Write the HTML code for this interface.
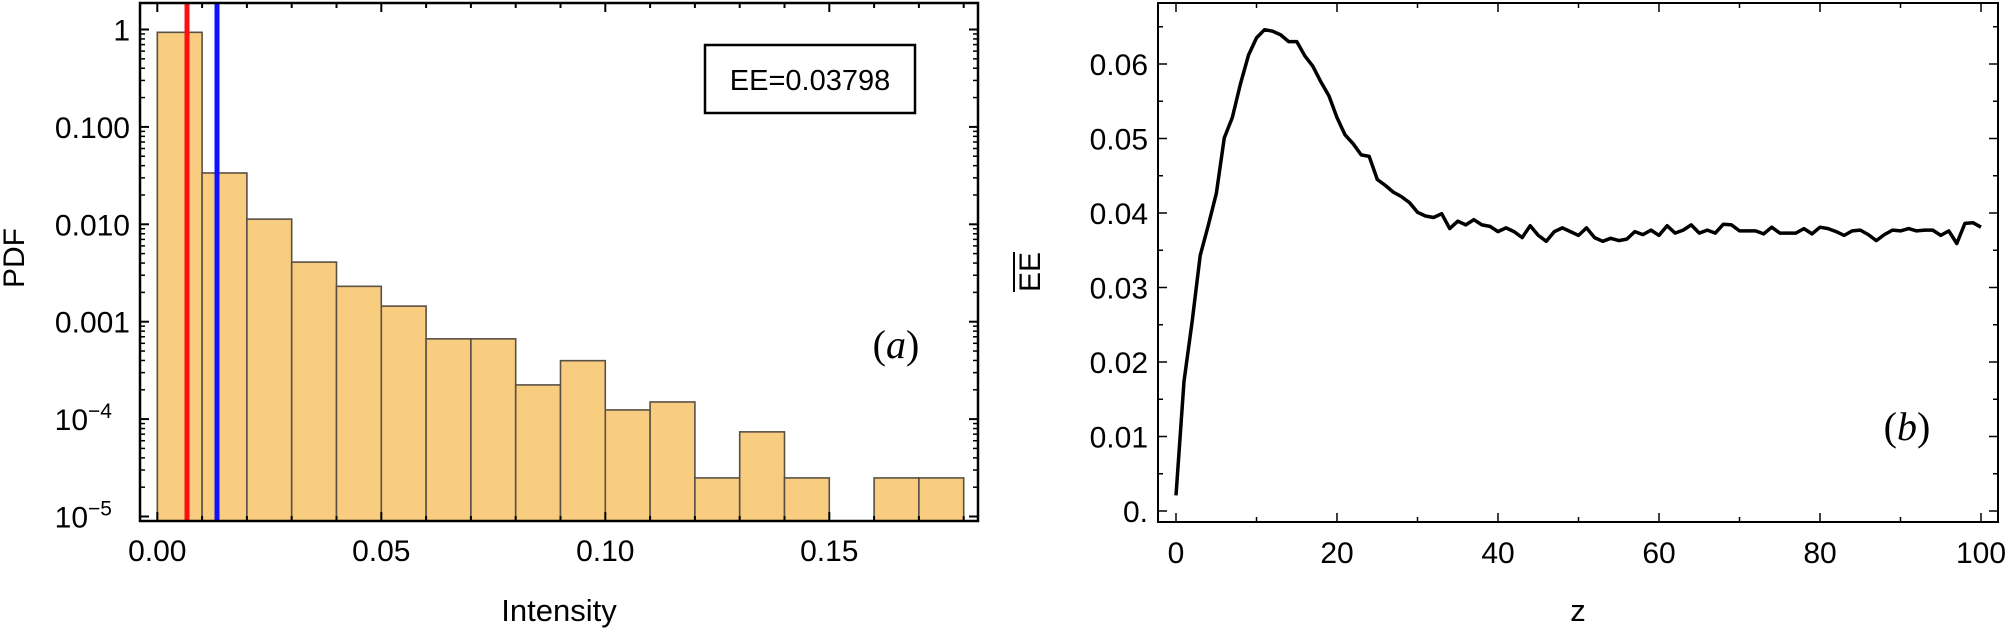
<!DOCTYPE html>
<html><head><meta charset="utf-8"><style>
html,body{margin:0;padding:0;background:#fff;}
svg{display:block;font-family:"Liberation Sans",sans-serif;}
</style></head><body>
<svg id="s" width="2006" height="628" xmlns="http://www.w3.org/2000/svg"></svg>
<script>
const s=document.getElementById('s');let h='';
const L=140,R=978,T=3,B=521;
const x0=157.3,bw=44.8;const ly=v=>29.5+(-v)*97.4;
const bars=[-0.029,-1.473,-1.947,-2.388,-2.637,-2.84,-3.176,-3.176,-3.649,-3.4,-3.906,-3.824,-4.604,-4.131,-4.604,null,-4.604,-4.604];
bars.forEach((b,i)=>{if(b===null)return;const x=x0+i*bw,y=ly(b);
h+=`<rect x="${x}" y="${y}" width="${bw}" height="${B-y}" fill="#f9cd80" stroke="#5a5045" stroke-width="1.6"/>`;});
h+=`<line x1="187" y1="${T}" x2="187" y2="${B}" stroke="#ff1010" stroke-width="5"/>`;
h+=`<line x1="217" y1="${T}" x2="217" y2="${B}" stroke="#1010ff" stroke-width="5"/>`;
h+=`<rect x="${L}" y="${T}" width="${R-L}" height="${B-T}" fill="none" stroke="#000" stroke-width="2.5"/>`;
const labs=['1','0.100','0.010','0.001','10<tspan dy="-12" font-size="21">−4</tspan>','10<tspan dy="-12" font-size="21">−5</tspan>'];
for(let d=0;d<=5;d++){const y=ly(-d);
h+=`<line x1="${L}" y1="${y}" x2="${L+9}" y2="${y}" stroke="#000" stroke-width="2"/><line x1="${R}" y1="${y}" x2="${R-9}" y2="${y}" stroke="#000" stroke-width="2"/>`;
h+=`<text x="${d>=4?112:130}" y="${y+11}" font-size="30" text-anchor="end">${labs[d]}</text>`;
if(d<5)for(let m=2;m<=9;m++){const yy=ly(-d-1+Math.log10(m));
h+=`<line x1="${L}" y1="${yy}" x2="${L+5}" y2="${yy}" stroke="#000" stroke-width="1.5"/><line x1="${R}" y1="${yy}" x2="${R-5}" y2="${yy}" stroke="#000" stroke-width="1.5"/>`;}}
for(let i=0;i<=18;i++){const x=x0+i*bw,len=i%5==0?9:5;
h+=`<line x1="${x}" y1="${B}" x2="${x}" y2="${B-len}" stroke="#000" stroke-width="2"/><line x1="${x}" y1="${T}" x2="${x}" y2="${T+len}" stroke="#000" stroke-width="2"/>`;
if(i%5==0)h+=`<text x="${x}" y="561" font-size="30" text-anchor="middle">${(i/100).toFixed(2)}</text>`;}
h+=`<text x="559" y="621" font-size="31" text-anchor="middle">Intensity</text>`;
h+=`<text transform="translate(24,258) rotate(-90)" font-size="30" text-anchor="middle">PDF</text>`;
h+=`<rect x="705" y="45" width="210" height="68" fill="#fff" stroke="#000" stroke-width="2.5"/>`;
h+=`<text x="810" y="90" font-size="29" text-anchor="middle">EE=0.03798</text>`;
h+=`<text x="896" y="358" font-size="40" font-family="Liberation Serif,serif" text-anchor="middle">(<tspan font-style="italic">a</tspan>)</text>`;
const L2=1158,R2=1998,T2=3,B2=522;
const rx=z=>1176+z*8.05,ry=v=>511-v*7450;
h+=`<rect x="${L2}" y="${T2}" width="${R2-L2}" height="${B2-T2}" fill="none" stroke="#000" stroke-width="2"/>`;
for(let k=0;k<=13;k++){const v=k*0.005,y=ry(v),len=k%2==0?9:5;
h+=`<line x1="${L2}" y1="${y}" x2="${L2+len}" y2="${y}" stroke="#000" stroke-width="1.5"/><line x1="${R2}" y1="${y}" x2="${R2-len}" y2="${y}" stroke="#000" stroke-width="1.5"/>`;
if(k%2==0)h+=`<text x="1148" y="${y+11}" font-size="30" text-anchor="end">${k==0?'0.':(v).toFixed(2)}</text>`;}
for(let z=0;z<=100;z+=10){const x=rx(z),len=z%20==0?9:5;
h+=`<line x1="${x}" y1="${B2}" x2="${x}" y2="${B2-len}" stroke="#000" stroke-width="1.5"/><line x1="${x}" y1="${T2}" x2="${x}" y2="${T2+len}" stroke="#000" stroke-width="1.5"/>`;
if(z%20==0)h+=`<text x="${x}" y="563" font-size="30" text-anchor="middle">${z}</text>`;}
h+=`<text x="1578" y="621" font-size="31" text-anchor="middle">z</text>`;
h+=`<g transform="translate(1040,272) rotate(-90)"><text font-size="30" text-anchor="middle">EE</text><line x1="-20" y1="-26" x2="20" y2="-26" stroke="#000" stroke-width="2"/></g>`;
h+=`<text x="1907" y="440" font-size="40" font-family="Liberation Serif,serif" text-anchor="middle">(<tspan font-style="italic">b</tspan>)</text>`;
const v=[0.0021,0.0174,0.0254,0.0343,0.0383,0.0426,0.0501,0.0528,0.0573,0.0612,0.0635,0.0646,0.0644,0.0639,0.0630,0.0630,0.0611,0.0597,0.0576,0.0557,0.0528,0.0505,0.0493,0.0478,0.0476,0.0445,0.0437,0.0428,0.0422,0.0414,0.0401,0.0396,0.0394,0.0399,0.0379,0.0389,0.0384,0.0391,0.0384,0.0382,0.0375,0.0380,0.0375,0.0367,0.0383,0.0370,0.0362,0.0375,0.0380,0.0375,0.0370,0.0380,0.0367,0.0362,0.0366,0.0363,0.0365,0.0375,0.0371,0.0377,0.0370,0.0383,0.0373,0.0377,0.0384,0.0373,0.0377,0.0373,0.0385,0.0384,0.0376,0.0376,0.0376,0.0372,0.0381,0.0373,0.0373,0.0373,0.0379,0.0372,0.0381,0.0379,0.0375,0.0370,0.0376,0.0377,0.0371,0.0363,0.0371,0.0377,0.0376,0.0379,0.0376,0.0377,0.0377,0.0370,0.0376,0.0359,0.0386,0.0387,0.0381];
h+=`<polyline fill="none" stroke="#000" stroke-width="3.5" stroke-linejoin="round" points="${v.map((a,i)=>rx(i).toFixed(1)+','+ry(a).toFixed(1)).join(' ')}"/>`;
s.innerHTML=h;
</script>
</body></html>
